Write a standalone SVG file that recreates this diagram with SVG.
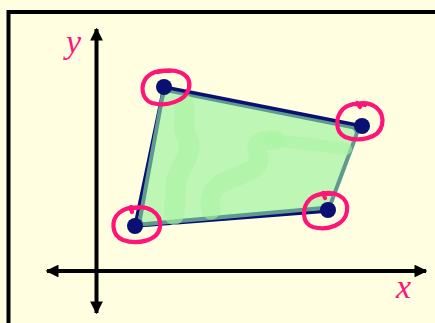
<svg xmlns="http://www.w3.org/2000/svg" width="435" height="323" viewBox="0 0 435 323">
<style>
.axis{stroke:#000;stroke-width:4;fill:none}
.circ{fill:none;stroke:#ff1478;stroke-width:4.2;stroke-linecap:round;stroke-linejoin:round}
.lbl{font-family:"Liberation Serif",serif;font-style:italic;font-size:34px;fill:#ff1478}
.dot{fill:#0a0f72}
.blob{fill:none;stroke:#a8f4a4;stroke-linecap:round;stroke-linejoin:round;opacity:0.6}
</style>
<defs>
<marker id="ah" viewBox="0 0 10 10" refX="9" refY="5" markerWidth="3.2" markerHeight="3.2" orient="auto-start-reverse" markerUnits="strokeWidth">
<path d="M0,0 L10,5 L0,10 z" fill="#000"/>
</marker>
</defs>
<rect width="435" height="323" fill="#fffee0"/>
<path d="M8.5,323 V12 H435" fill="none" stroke="#000" stroke-width="4"/>
<g id="axes">
<line class="axis" x1="96.5" y1="313" x2="96.5" y2="29" marker-start="url(#ah)" marker-end="url(#ah)"/>
<line class="axis" x1="47" y1="271" x2="426" y2="271" marker-start="url(#ah)" marker-end="url(#ah)"/>
<text class="lbl" x="66" y="53">y</text>
<text class="lbl" x="396" y="298">x</text>
</g>
<g id="quad">
<path d="M164,87 L135,226 L328,211" fill="none" stroke="#0a0f72" stroke-width="3.5" stroke-linejoin="round"/>
<path d="M163,95 Q165,90 171,91 L352,127 Q359,130 356,136 L331,203 Q329,208 323,208 L146,224 Q140,225 140,219 L162,99 Z" fill="#bdf6b5" stroke="#5e9a90" stroke-width="4" stroke-linejoin="round"/>
<path class="blob" stroke-width="20" d="M184,104 C188,118 180,126 188,140 C193,152 182,165 177,178 C174,190 176,205 174,215"/>
<path class="blob" stroke-width="19" d="M211,210 C208,196 212,187 228,180 C248,172 262,168 258,155 C254,142 262,140 275,140"/>
<path class="blob" stroke-width="12" d="M270,140 C290,142 320,145 346,149"/>
<path d="M164,87 L362,126" fill="none" stroke="#0a0f72" stroke-width="3.5" stroke-linecap="round"/>
<circle class="dot" cx="164" cy="87" r="8"/>
<circle class="dot" cx="362" cy="126" r="8"/>
<circle class="dot" cx="328" cy="210" r="8"/>
<circle class="dot" cx="135" cy="226" r="8"/>
</g>
<g id="circles">
<path class="circ" d="M158,72 C176,67 192,74 189,88 C186,101 167,107 152,103 C141,99 140,85 147,77 C153,71 161,70 170,71"/>
<path class="circ" d="M356,104 C372,100 385,110 382,125 C379,139 358,142 345,137 C335,132 335,117 343,109 C349,104 357,103 365,105 M357,103 L360,107"/>
<path class="circ" d="M318,195 C334,189 349,197 347,211 C345,225 328,231 313,227 C301,223 302,207 310,199 C316,194 323,193 331,194 M323,193 L325,198"/>
<path class="circ" d="M130,209 C147,203 162,213 160,227 C158,241 137,245 123,240 C111,235 111,220 119,213 C125,208 131,207 138,208 M131,207 L132,212"/>
</g>
</svg>
